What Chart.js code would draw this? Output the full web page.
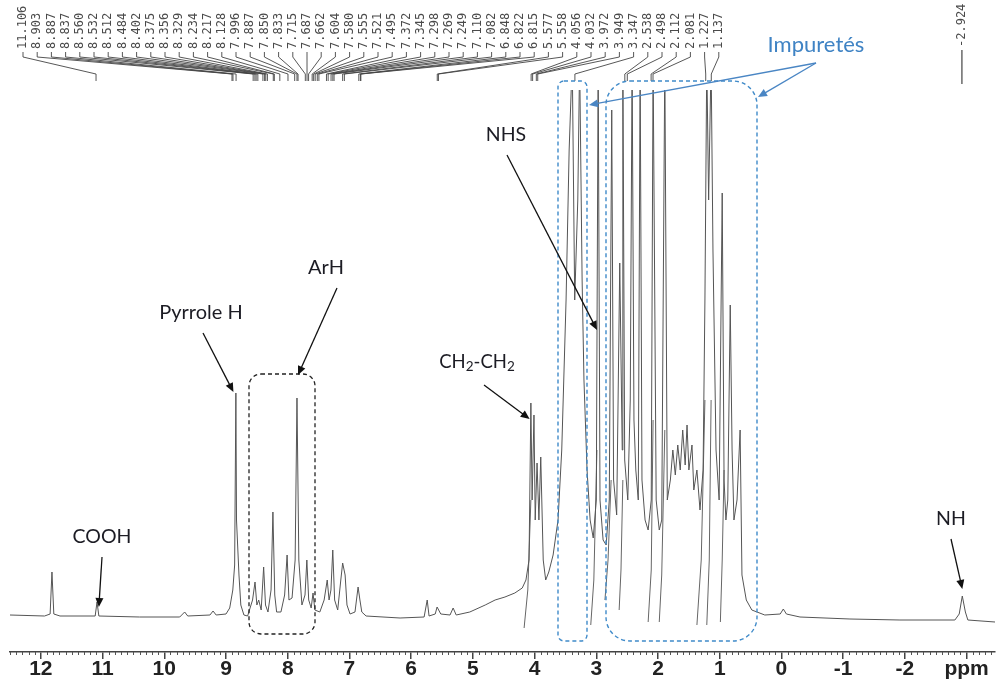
<!DOCTYPE html>
<html>
<head>
<meta charset="utf-8">
<script src="https://cdn.jsdelivr.net/npm/chart.js@4.4.1/dist/chart.umd.min.js"></script>
<style>
  html, body { margin: 0; padding: 0; background: #fff; }
</style>
</head>
<body>
<canvas id="nmr" width="1000" height="700"></canvas>
<script>
// chemical shift (ppm) and intensity
const shifts = [
  12.50, 11.94, 11.85, 11.82, 11.79, 11.69, 11.12, 11.09, 11.06, 10.40,
  9.75, 9.67, 9.62, 9.26, 9.21, 9.16, 9.00, 8.94, 8.89, 8.86,
  8.84, 8.83, 8.79, 8.76, 8.71, 8.65, 8.57, 8.53, 8.50, 8.47,
  8.43, 8.39, 8.36, 8.32, 8.27, 8.24, 8.21, 8.18, 8.11, 8.05,
  8.01, 7.98, 7.93, 7.88, 7.85, 7.82, 7.77, 7.72, 7.69, 7.66,
  7.62, 7.59, 7.56, 7.48, 7.41, 7.36, 7.33, 7.30, 7.27, 7.24,
  7.19, 7.14, 7.11, 7.07, 7.04, 6.99, 6.91, 6.86, 6.83, 6.80,
  6.73, 6.18, 5.79, 5.74, 5.71, 5.61, 5.58, 5.52, 5.37, 5.32,
  5.27, 5.05, 4.80, 4.64, 4.48, 4.32, 4.20, 4.14, 4.09, 4.06,
  4.04, 4.01, 3.99, 3.96, 3.93, 3.90, 3.86, 3.82, 3.77, 3.70,
  3.62, 3.56, 3.49, 3.44, 3.39, 3.35, 3.30, 3.27, 3.23, 3.20,
  3.15, 3.10, 3.05, 3.00, 2.97, 2.94, 2.89, 2.84, 2.79, 2.75,
  2.72, 2.67, 2.62, 2.58, 2.57, 2.54, 2.49, 2.45, 2.42, 2.39,
  2.36, 2.32, 2.29, 2.26, 2.21, 2.16, 2.11, 2.08, 2.03, 1.98,
  1.94, 1.89, 1.85, 1.80, 1.76, 1.72, 1.68, 1.64, 1.60, 1.56,
  1.53, 1.50, 1.45, 1.42, 1.37, 1.32, 1.27, 1.24, 1.21, 1.18,
  1.14, 1.11, 1.06, 1.01, 0.96, 0.93, 0.90, 0.87, 0.83, 0.80,
  0.77, 0.72, 0.67, 0.64, 0.57, 0.48, 0.27, 0.02, -0.03, -0.08,
  -0.30, -1.11, -1.92, -2.81, -2.88, -2.93, -2.98, -3.02, -3.46
];
const intensity = [
  37, 36, 38, 80, 38, 36, 36, 50, 36, 35,
  35, 40, 36, 37, 41, 37, 38, 44, 62, 87,
  259, 132, 77, 47, 37, 36, 52, 70, 47, 52,
  42, 85, 47, 40, 62, 140, 57, 40, 40, 57,
  97, 52, 54, 92, 254, 92, 47, 57, 92, 52,
  44, 59, 42, 40, 52, 72, 52, 62, 102, 52,
  42, 72, 89, 77, 47, 38, 40, 65, 52, 40,
  36, 34, 35, 52, 36, 38, 45, 38, 37, 44,
  37, 40, 47, 52, 55, 59, 64, 72, 92, 249,
  152, 237, 132, 189, 132, 195, 92, 72, 80, 97,
  132, 202, 352, 502, 592, 352, 452, 592, 372, 272,
  182, 132, 114, 152, 592, 152, 112, 107, 152, 542,
  172, 137, 389, 202, 592, 192, 152, 252, 592, 232,
  182, 152, 592, 172, 132, 122, 152, 592, 152, 122,
  132, 592, 152, 172, 202, 177, 207, 182, 222, 187,
  227, 182, 207, 162, 182, 142, 182, 352, 592, 452,
  592, 402, 202, 152, 459, 172, 132, 152, 347, 202,
  132, 152, 222, 77, 52, 42, 37, 38, 43, 38,
  35, 33, 32, 32, 38, 56, 40, 32, 30
];
// lower tails of the big peaks, separate strokes (null breaks them)
const tailShifts = [4.17, 4.11, 4.06, null, 3.09, 3.04, 2.99, null, 2.86, 2.81, 2.76, null,
  2.63, 2.60, 2.57, null, 2.16, 2.11, 2.08, null, 1.98, 1.94, 1.89, null,
  1.37, 1.30, 1.24, null, 1.21, 1.17, 1.14, null, 0.99, 0.96, 0.93];
const tailIntensity = [24, 62, 152, null, 27, 72, 202, null, 52, 92, 172, null,
  42, 82, 172, null, 30, 82, 232, null, 30, 77, 222, null,
  27, 92, 252, null, 27, 92, 252, null, 30, 92, 182];

// picked peaks printed at the top
const peakList = [11.106, 8.903, 8.887, 8.837, 8.560, 8.532, 8.512, 8.484, 8.402, 8.375,
  8.356, 8.329, 8.234, 8.217, 8.128, 7.996, 7.887, 7.850, 7.833, 7.715,
  7.687, 7.662, 7.604, 7.580, 7.555, 7.521, 7.495, 7.372, 7.345, 7.298,
  7.269, 7.249, 7.110, 7.082, 6.848, 6.822, 6.815, 5.577, 5.558, 4.056,
  4.032, 3.972, 3.949, 3.347, 2.538, 2.498, 2.112, 2.081, 1.227, 1.137];
const lonePeak = -2.924;

const ppmTicks = [12, 11, 10, 9, 8, 7, 6, 5, 4, 3, 2, 1, 0, -1, -2, -3];

const trace = shifts.map((s, i) => ({ x: s, y: intensity[i] }));
const tails = tailShifts.map((s, i) => (s === null ? { x: null, y: null } : { x: s, y: tailIntensity[i] }));

function arrow(ctx, x1, y1, x2, y2, color) {
  const a = Math.atan2(y2 - y1, x2 - x1);
  const hl = 9, hw = 4;
  ctx.strokeStyle = color; ctx.fillStyle = color; ctx.lineWidth = 1.3;
  ctx.beginPath();
  ctx.moveTo(x1, y1);
  ctx.lineTo(x2 - Math.cos(a) * hl * 0.8, y2 - Math.sin(a) * hl * 0.8);
  ctx.stroke();
  ctx.beginPath();
  ctx.moveTo(x2, y2);
  ctx.lineTo(x2 - Math.cos(a) * hl + Math.sin(a) * hw, y2 - Math.sin(a) * hl - Math.cos(a) * hw);
  ctx.lineTo(x2 - Math.cos(a) * hl - Math.sin(a) * hw, y2 - Math.sin(a) * hl + Math.cos(a) * hw);
  ctx.closePath();
  ctx.fill();
}

function roundBox(ctx, x, y, w, h, r) {
  ctx.beginPath();
  ctx.moveTo(x + r, y);
  ctx.arcTo(x + w, y, x + w, y + h, r);
  ctx.arcTo(x + w, y + h, x, y + h, r);
  ctx.arcTo(x, y + h, x, y, r);
  ctx.arcTo(x, y, x + w, y, r);
  ctx.closePath();
  ctx.stroke();
}

const overlay = {
  id: 'overlay',
  afterDraw(chart) {
    const ctx = chart.ctx, xs = chart.scales.x, area = chart.chartArea;
    ctx.save();

    // minor ticks every 0.1 ppm
    ctx.strokeStyle = '#555';
    ctx.lineWidth = 1;
    for (let i = -34; i <= 125; i++) {
      if (i % 10 === 0) continue;
      const px = Math.round(xs.getPixelForValue(i / 10)) + 0.5;
      ctx.beginPath();
      ctx.moveTo(px, area.bottom);
      ctx.lineTo(px, area.bottom + 3);
      ctx.stroke();
    }

    // peak list with connector lines
    ctx.font = "12px 'DejaVu Sans Mono', monospace";
    ctx.fillStyle = '#4a4a4a';
    ctx.textAlign = 'left';
    ctx.textBaseline = 'middle';
    ctx.strokeStyle = '#444';
    ctx.lineWidth = 0.9;
    peakList.forEach((p, i) => {
      const lx = 23 + i * 14.2;
      const px = xs.getPixelForValue(p);
      ctx.save();
      ctx.translate(lx, 49);
      ctx.rotate(-Math.PI / 2);
      ctx.fillText(p.toFixed(3), 0, 0);
      ctx.restore();
      ctx.beginPath();
      ctx.moveTo(lx, 52);
      ctx.lineTo(lx, 57);
      ctx.lineTo(px, 74);
      ctx.lineTo(px, 81);
      ctx.stroke();
    });
    const lp = xs.getPixelForValue(lonePeak);
    ctx.save();
    ctx.translate(lp, 47);
    ctx.rotate(-Math.PI / 2);
    ctx.fillText(lonePeak.toFixed(3), 0, 0);
    ctx.restore();
    ctx.lineWidth = 1.2;
    ctx.beginPath();
    ctx.moveTo(lp, 50);
    ctx.lineTo(lp, 84);
    ctx.stroke();

    // dashed boxes
    ctx.setLineDash([4, 3]);
    ctx.strokeStyle = '#222';
    ctx.lineWidth = 1.3;
    roundBox(ctx, 249, 374, 66, 260, 12);
    ctx.strokeStyle = '#3f8ac9';
    ctx.lineWidth = 1.4;
    roundBox(ctx, 558, 81, 29, 560, 6);
    roundBox(ctx, 606, 81, 151, 560, 24);
    ctx.setLineDash([]);

    // labels
    const fam = "Lato, 'Open Sans', sans-serif";
    ctx.fillStyle = '#1c1c24';
    ctx.textAlign = 'center';
    ctx.textBaseline = 'middle';
    ctx.font = '19.5px ' + fam;
    ctx.fillText('COOH', 102, 537);
    ctx.fillText('NHS', 506, 135);
    ctx.fillText('NH', 951, 519);
    ctx.font = '20px ' + fam;
    ctx.fillText('Pyrrole H', 201, 313);
    ctx.fillText('ArH', 326, 268);
    // CH2-CH2 with subscripts
    const parts = [['CH', false], ['2', true], ['-CH', false], ['2', true]];
    const big = '18.5px ' + fam, small = '13.5px ' + fam;
    let w = 0;
    parts.forEach(([t, s]) => { ctx.font = s ? small : big; w += ctx.measureText(t).width; });
    let cx = 477 - w / 2;
    ctx.textAlign = 'left';
    parts.forEach(([t, s]) => {
      ctx.font = s ? small : big;
      ctx.fillText(t, cx, s ? 367 : 362);
      cx += ctx.measureText(t).width;
    });
    ctx.textAlign = 'center';
    ctx.fillStyle = '#3f83c4';
    ctx.font = '22px ' + fam;
    ctx.fillText('Impuretés', 816, 45);

    // arrows
    arrow(ctx, 102, 557, xs.getPixelForValue(11.06), 607, '#111');
    arrow(ctx, 203, 333, xs.getPixelForValue(8.88), 392, '#111');
    arrow(ctx, 337, 288, 298, 375, '#111');
    arrow(ctx, 484, 385, xs.getPixelForValue(4.08), 419, '#111');
    arrow(ctx, 507, 155, 597, 330, '#111');
    arrow(ctx, 951, 539, xs.getPixelForValue(-2.93), 589, '#111');
    arrow(ctx, 816, 63, 589, 105, '#4a86c4');
    arrow(ctx, 816, 63, 758, 97, '#4a86c4');

    ctx.restore();
  }
};

new Chart(document.getElementById('nmr').getContext('2d'), {
  type: 'line',
  data: {
    datasets: [{
      data: trace,
      borderColor: '#555',
      borderWidth: 1,
      pointRadius: 0,
      tension: 0
    }, {
      data: tails,
      borderColor: '#666',
      borderWidth: 1,
      pointRadius: 0,
      tension: 0,
      spanGaps: false
    }]
  },
  options: {
    responsive: false,
    animation: false,
    devicePixelRatio: 1,
    layout: { padding: { top: 90, left: 10, right: 5, bottom: 20 } },
    plugins: { legend: { display: false }, tooltip: { enabled: false } },
    scales: {
      x: {
        type: 'linear',
        reverse: true,
        min: -3.46,
        max: 12.5,
        afterBuildTicks: (scale) => { scale.ticks = ppmTicks.map(v => ({ value: v })); },
        ticks: {
          autoSkip: false,
          maxRotation: 0,
          padding: 0,
          color: '#222',
          font: { family: "'Liberation Sans Narrow', 'Liberation Sans', Arial", size: 21, weight: 'bold', lineHeight: 1 },
          callback: (v) => (v === -3 ? 'ppm' : String(v))
        },
        grid: { drawOnChartArea: false, tickLength: 7, tickColor: '#444', lineWidth: 1.5 },
        border: { color: '#444', width: 1.5 }
      },
      y: { display: false, min: 0, max: 562 }
    }
  },
  plugins: [overlay]
});
</script>
</body>
</html>
